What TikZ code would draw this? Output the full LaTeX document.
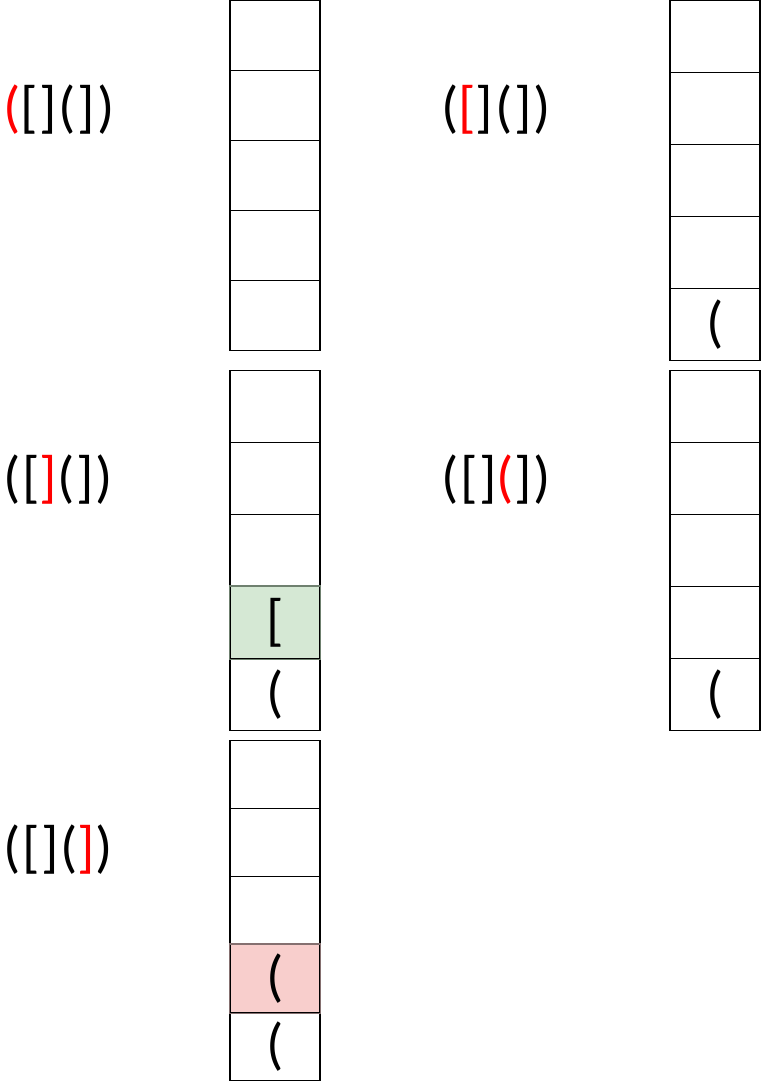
\documentclass[tikz,border=0pt]{standalone}
\usepackage{fontspec}
\setmainfont{Carlito}
\usepackage{tikz}
\usetikzlibrary{positioning}
\definecolor{pushgreen}{HTML}{D5E8D4}
\definecolor{pushgreenline}{HTML}{6F806F}
\definecolor{poppink}{HTML}{F8CECC}
\definecolor{poppinkline}{HTML}{857070}
\newcommand{\hl}[1]{\textcolor{red}{#1}}
\tikzset{
  cell/.style={draw, line width=1.2pt, minimum width=90pt, inner sep=0pt, anchor=north,
    font=\fontsize{57}{57}\selectfont},
  expr/.style={anchor=west, inner sep=0pt,
    font=\fontsize{57}{57}\selectfont\addfontfeature{LetterSpace=3}}
}

\begin{document}
\begin{tikzpicture}[x=1pt,y=-1pt]
    \useasboundingbox (0,0) rectangle (761,1081);

    % the input string, current symbol in red
    \node[expr] (eA) at (3,110) {\hl{(}[](])};
    \node[expr] (eB) at (441,110) {(\hl{[}](])};
    \node[expr] (eC) at (3,480) {([\hl{]}(])};
    \node[expr] (eD) at (441,480) {([]\hl{(}])};
    \node[expr] (eE) at (3,850) {([](\hl{]})};

    % stack A : empty
    \foreach \i in {0,...,4}{
      \node[cell, minimum height=70pt] (a\i) at (275,{\i*70}) {};
    }
    % stack B
    \foreach \i/\t in {0/{},1/{},2/{},3/{},4/{(}}{
      \node[cell, minimum height=72pt] (b\i) at (715,{\i*72}) {\t};
    }
    % stack C : matching pair found
    \foreach \i/\t/\f in {0/{}/white,1/{}/white,2/{}/white,3/{[}/pushgreen,4/{(}/white}{
      \node[cell, minimum height=72pt, fill=\f] (c\i) at (275,{370+\i*72}) {\t};
    }
    \draw[line width=1.2pt, pushgreenline] (c3.north west) rectangle (c3.south east);
    % stack D
    \foreach \i/\t in {0/{},1/{},2/{},3/{},4/{(}}{
      \node[cell, minimum height=72pt] (d\i) at (715,{370+\i*72}) {\t};
    }
    % stack E : mismatch
    \foreach \i/\t/\f in {0/{}/white,1/{}/white,2/{}/white,3/{(}/poppink,4/{(}/white}{
      \node[cell, minimum height=68pt, fill=\f] (e\i) at (275,{740+\i*68}) {\t};
    }
    \draw[line width=1.2pt, poppinkline] (e3.north west) rectangle (e3.south east);
\end{tikzpicture}
\end{document}
